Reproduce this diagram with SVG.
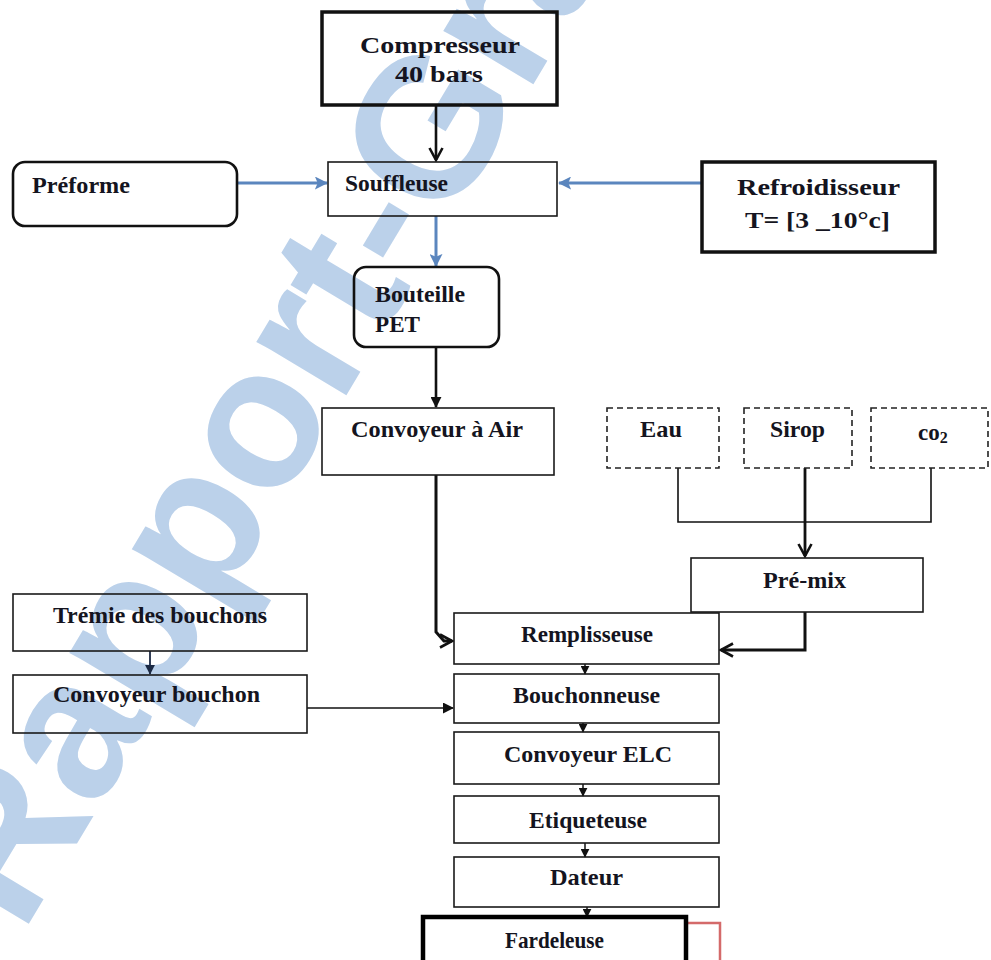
<svg xmlns="http://www.w3.org/2000/svg" width="991" height="960" viewBox="0 0 991 960">
<defs>
<style>
.box{fill:none;stroke:#1a1a1a;stroke-width:1.6}
.thick{fill:none;stroke:#111;stroke-width:3.5}
.round{fill:none;stroke:#111;stroke-width:2.6}
.dash{fill:none;stroke:#222;stroke-width:1.6;stroke-dasharray:6 4}
.lbl{font-family:"Liberation Serif","Times New Roman",serif;font-weight:bold;font-size:23px;fill:#141420}
.wm{font-family:"Liberation Sans",Arial,sans-serif;font-weight:bold;font-size:198px;fill:#bbd1ea}
.c{fill:none;stroke:#111}
.blue{fill:none;stroke:#5b86be;stroke-width:3}
</style>
<marker id="vopen" viewBox="0 0 16 16" markerWidth="16" markerHeight="16" refX="14" refY="8" orient="auto" markerUnits="userSpaceOnUse">
<path d="M2,1.5 L14,8 L2,14.5" fill="none" stroke="#111" stroke-width="2.6"/>
</marker>
<marker id="tri" viewBox="0 0 12 12" markerWidth="11" markerHeight="11" refX="11" refY="6" orient="auto" markerUnits="userSpaceOnUse">
<path d="M0,0 L12,6 L0,12 Z" fill="#111"/>
</marker>
<marker id="tris" viewBox="0 0 12 12" markerWidth="9" markerHeight="9" refX="11" refY="6" orient="auto" markerUnits="userSpaceOnUse">
<path d="M0,0 L12,6 L0,12 Z" fill="#111"/>
</marker>
<marker id="trin" viewBox="0 0 12 12" markerWidth="10" markerHeight="10" refX="11" refY="6" orient="auto" markerUnits="userSpaceOnUse">
<path d="M0,0 L12,6 L0,12 Z" fill="#1c2a44"/>
</marker>
<marker id="btri" viewBox="0 0 14 14" markerWidth="13" markerHeight="13" refX="13" refY="7" orient="auto" markerUnits="userSpaceOnUse">
<path d="M0,0 L14,7 L0,14 L3,7 Z" fill="#5b86be"/>
</marker>
</defs>

<text class="wm" x="22" y="935" transform="rotate(-59 22 935)">Rapport-Gratuit</text>

<g id="connectors">
<line class="c" x1="436" y1="105" x2="436" y2="160" stroke-width="2.6" marker-end="url(#vopen)"/>
<line class="blue" x1="237" y1="183" x2="327" y2="183" marker-end="url(#btri)"/>
<line class="blue" x1="702" y1="183" x2="559" y2="183" marker-end="url(#btri)"/>
<line class="blue" x1="436" y1="216" x2="436" y2="266" marker-end="url(#btri)"/>
<line class="c" x1="436" y1="347" x2="436" y2="407" stroke-width="2.6" marker-end="url(#tri)"/>
<polyline class="c" points="436,475 436,632 444,641 452,641" stroke-width="3" marker-end="url(#vopen)"/>
<polyline class="c" points="678,468 678,522 931,522 931,468" stroke-width="1.6"/>
<line class="c" x1="805" y1="468" x2="805" y2="556" stroke-width="2.8" marker-end="url(#vopen)"/>
<polyline class="c" points="805,612 805,650 721,650" stroke-width="3" marker-end="url(#vopen)"/>
<line x1="150" y1="651" x2="150" y2="674" stroke="#1c2a44" stroke-width="1.8" marker-end="url(#trin)"/>
<line class="c" x1="307" y1="708" x2="453" y2="708" stroke-width="1.3" marker-end="url(#tri)"/>
<line class="c" x1="585" y1="664" x2="585" y2="674" stroke-width="1.5" marker-end="url(#tris)"/>
<line class="c" x1="583" y1="723" x2="583" y2="732" stroke-width="1.5" marker-end="url(#tris)"/>
<line class="c" x1="583" y1="784" x2="583" y2="796" stroke-width="1.5" marker-end="url(#tris)"/>
<line class="c" x1="585" y1="843" x2="585" y2="857" stroke-width="1.5" marker-end="url(#tris)"/>
<line class="c" x1="587" y1="907" x2="587" y2="917" stroke-width="1.5" marker-end="url(#tris)"/>
<polyline points="686,923 720,923 720,960" fill="none" stroke="#d46a6a" stroke-width="2.5"/>
</g>

<g id="compresseur">
<rect class="thick" x="322" y="12" width="235" height="93"/>
<text class="lbl" x="360" y="53" font-size="26" textLength="160" lengthAdjust="spacingAndGlyphs">Compresseur</text>
<text class="lbl" x="395" y="82" font-size="26" textLength="88" lengthAdjust="spacingAndGlyphs">40 bars</text>
</g>
<g id="preforme">
<rect class="round" x="13" y="162" width="224" height="64" rx="12"/>
<text class="lbl" x="32" y="193" textLength="98" lengthAdjust="spacingAndGlyphs">Préforme</text>
</g>
<g id="souffleuse">
<rect class="box" x="328" y="162" width="229" height="54"/>
<text class="lbl" x="345" y="191" textLength="103" lengthAdjust="spacingAndGlyphs">Souffleuse</text>
</g>
<g id="refroidisseur">
<rect class="thick" x="702" y="162" width="233" height="90"/>
<text class="lbl" x="737" y="195" font-size="25" textLength="163" lengthAdjust="spacingAndGlyphs">Refroidisseur</text>
<text class="lbl" x="745" y="228" font-size="25" textLength="145" lengthAdjust="spacingAndGlyphs">T= [3 _10°c]</text>
</g>
<g id="bouteille">
<rect class="round" x="354" y="267" width="145" height="80" rx="12"/>
<text class="lbl" x="375" y="302" textLength="90" lengthAdjust="spacingAndGlyphs">Bouteille</text>
<text class="lbl" x="375" y="332" textLength="45" lengthAdjust="spacingAndGlyphs">PET</text>
</g>
<g id="convoyeur-air">
<rect class="box" x="322" y="408" width="232" height="67"/>
<text class="lbl" x="351" y="437" textLength="172" lengthAdjust="spacingAndGlyphs">Convoyeur à Air</text>
</g>
<g id="eau">
<rect class="dash" x="607" y="408" width="112" height="60"/>
<text class="lbl" x="640" y="437" textLength="42" lengthAdjust="spacingAndGlyphs">Eau</text>
</g>
<g id="sirop">
<rect class="dash" x="744" y="408" width="108" height="60"/>
<text class="lbl" x="770" y="437" textLength="55" lengthAdjust="spacingAndGlyphs">Sirop</text>
</g>
<g id="co2">
<rect class="dash" x="871" y="408" width="117" height="60"/>
<text class="lbl" x="918" y="440" font-size="24">co<tspan font-size="16" dy="3">2</tspan></text>
</g>
<g id="premix">
<rect class="box" x="691" y="558" width="232" height="54"/>
<text class="lbl" x="763" y="588" textLength="83" lengthAdjust="spacingAndGlyphs">Pré-mix</text>
</g>
<g id="tremie">
<rect class="box" x="13" y="594" width="294" height="57"/>
<text class="lbl" x="53" y="623" textLength="214" lengthAdjust="spacingAndGlyphs">Trémie des bouchons</text>
</g>
<g id="convoyeur-bouchon">
<rect class="box" x="13" y="675" width="294" height="58"/>
<text class="lbl" x="53" y="702" textLength="207" lengthAdjust="spacingAndGlyphs">Convoyeur bouchon</text>
</g>
<g id="remplisseuse">
<rect class="box" x="454" y="613" width="265" height="51"/>
<text class="lbl" x="521" y="642" textLength="132" lengthAdjust="spacingAndGlyphs">Remplisseuse</text>
</g>
<g id="bouchonneuse">
<rect class="box" x="454" y="674" width="265" height="49"/>
<text class="lbl" x="513" y="703" textLength="147" lengthAdjust="spacingAndGlyphs">Bouchonneuse</text>
</g>
<g id="convoyeur-elc">
<rect class="box" x="454" y="732" width="265" height="52"/>
<text class="lbl" x="504" y="762" textLength="168" lengthAdjust="spacingAndGlyphs">Convoyeur ELC</text>
</g>
<g id="etiqueteuse">
<rect class="box" x="454" y="796" width="265" height="47"/>
<text class="lbl" x="529" y="828" textLength="118" lengthAdjust="spacingAndGlyphs">Etiqueteuse</text>
</g>
<g id="dateur">
<rect class="box" x="454" y="857" width="265" height="50"/>
<text class="lbl" x="550" y="885" textLength="73" lengthAdjust="spacingAndGlyphs">Dateur</text>
</g>
<g id="fardeleuse">
<rect x="423" y="917" width="263" height="60" fill="none" stroke="#000" stroke-width="4.5"/>
<text class="lbl" x="505" y="948" font-size="21" fill="#000" textLength="99" lengthAdjust="spacingAndGlyphs">Fardeleuse</text>
</g>
</svg>
